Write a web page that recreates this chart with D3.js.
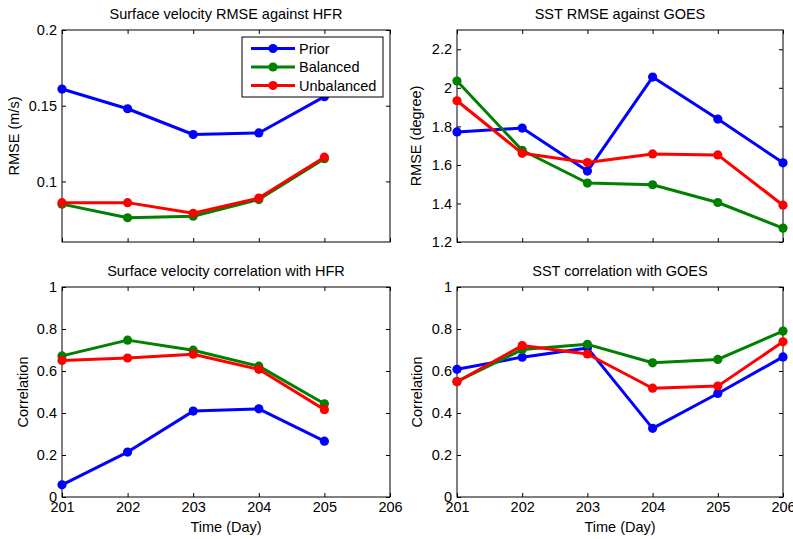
<!DOCTYPE html>
<html>
<head>
<meta charset="utf-8">
<script src="https://cdn.jsdelivr.net/npm/d3@7"></script>
<style>
	body { margin: 0; background: #fff; }
	svg { display: block; font-family: "Liberation Sans", Arial, sans-serif; }
	.tick text { font-size: 14.5px; fill: #000; }
	.tick line { stroke: #000; }
	.title, .y_label, .x_label, .legend_text { font-size: 14.5px; fill: #000; }
</style>
</head>
<body>
<div id="chart"></div>
<script>
// days on the x axis
const days = [201, 202, 203, 204, 205, 206];
const series_names = ["Prior", "Balanced", "Unbalanced"];

// surface velocity RMSE against HFR (m/s), days 201-205
const vel_rmse_prior = [0.161, 0.148, 0.131, 0.132, 0.156];
const vel_rmse_balanced = [0.085, 0.076, 0.077, 0.088, 0.115];
const vel_rmse_unbalanced = [0.086, 0.086, 0.079, 0.089, 0.116];

// SST RMSE against GOES (degree), days 201-206
const sst_rmse_prior = [1.771, 1.791, 1.568, 2.056, 1.838, 1.611];
const sst_rmse_balanced = [2.035, 1.676, 1.506, 1.497, 1.405, 1.272];
const sst_rmse_unbalanced = [1.933, 1.660, 1.612, 1.657, 1.652, 1.391];

// surface velocity correlation with HFR
const vel_corr_prior = [0.058, 0.214, 0.409, 0.420, 0.266];
const vel_corr_balanced = [0.672, 0.747, 0.699, 0.623, 0.444];
const vel_corr_unbalanced = [0.650, 0.662, 0.680, 0.608, 0.416];

// SST correlation with GOES
const sst_corr_prior = [0.608, 0.666, 0.710, 0.327, 0.493, 0.667];
const sst_corr_balanced = [0.550, 0.702, 0.727, 0.639, 0.655, 0.790];
const sst_corr_unbalanced = [0.549, 0.721, 0.681, 0.518, 0.528, 0.739];

// tick labels
const vel_rmse_ticks = [0.1, 0.15, 0.2];
const sst_rmse_ticks = [1.2, 1.4, 1.6, 1.8, 2, 2.2];
const corr_ticks = [0, 0.2, 0.4, 0.6, 0.8, 1];

const colors = ["#0000ff", "#008000", "#ff0000"];

const W = 793, H = 539;
const svg = d3.select("#chart").append("svg")
	.attr("width", W)
	.attr("height", H);

class line_panel {
	constructor(opts) {
		this.box = opts.box;          // {x, y, w, h} of the axes frame
		this.title = opts.title;
		this.y_label = opts.y_label;
		this.y_label_off = opts.y_label_off;
		this.y_domain = opts.y_domain;
		this.y_ticks = opts.y_ticks;
		this.series = opts.series;
		this.x_labels = opts.x_labels;
		this.legend = opts.legend;
		this.init();
	}

	init() {
		this.g = svg.append("g")
			.attr("transform", `translate(${this.box.x},${this.box.y})`);
		this.create_scales();
		this.create_axes();
		this.create_shapes();
		if (this.legend) this.create_legend();
	}

	create_scales() {
		this.x_scale = d3.scaleLinear()
			.domain([201, 206])
			.range([0, this.box.w]);
		this.y_scale = d3.scaleLinear()
			.domain(this.y_domain)
			.range([this.box.h, 0]);
	}

	create_axes() {
		const w = this.box.w, h = this.box.h;

		// frame
		this.g.append("rect")
			.attr("width", w)
			.attr("height", h)
			.attr("fill", "none")
			.attr("stroke", "#000")
			.attr("stroke-width", 1);

		const tick = 4;
		const fmt = d => String(d);

		this.g.append("g")
			.attr("class", "y axis")
			.call(d3.axisLeft(this.y_scale).tickValues(this.y_ticks)
				.tickSize(-tick).tickSizeOuter(0).tickPadding(5).tickFormat(fmt));
		this.g.append("g")
			.attr("transform", `translate(${w},0)`)
			.call(d3.axisRight(this.y_scale).tickValues(this.y_ticks)
				.tickSize(-tick).tickSizeOuter(0).tickFormat(""));
		this.g.append("g")
			.attr("class", "x axis")
			.attr("transform", `translate(0,${h})`)
			.call(d3.axisBottom(this.x_scale).tickValues(days)
				.tickSize(-tick).tickSizeOuter(0).tickPadding(5)
				.tickFormat(this.x_labels ? fmt : ""));
		this.g.append("g")
			.call(d3.axisTop(this.x_scale).tickValues(days)
				.tickSize(-tick).tickSizeOuter(0).tickFormat(""));

		this.g.selectAll(".domain").remove();
		this.g.selectAll(".tick text").attr("font-family", null).attr("font-size", null);

		this.g.append("text")
			.attr("class", "title")
			.attr("x", w / 2)
			.attr("y", -11)
			.attr("text-anchor", "middle")
			.text(this.title);

		this.g.append("text")
			.attr("class", "y_label")
			.attr("transform", `translate(${-this.y_label_off},${h / 2}) rotate(-90)`)
			.attr("text-anchor", "middle")
			.text(this.y_label);

		if (this.x_labels) {
			this.g.append("text")
				.attr("class", "x_label")
				.attr("x", w / 2)
				.attr("y", h + 35)
				.attr("text-anchor", "middle")
				.text("Time (Day)");
		}
	}

	create_shapes() {
		const line = d3.line()
			.x((d, i) => this.x_scale(days[i]))
			.y(d => this.y_scale(d));

		this.series.forEach((vals, k) => {
			const grp = this.g.append("g").attr("class", "series");
			grp.append("path")
				.datum(vals)
				.attr("d", line)
				.attr("fill", "none")
				.attr("stroke", colors[k])
				.attr("stroke-width", 3)
				.attr("stroke-linejoin", "round");
			grp.selectAll("circle")
				.data(vals)
				.enter()
				.append("circle")
				.attr("cx", (d, i) => this.x_scale(days[i]))
				.attr("cy", d => this.y_scale(d))
				.attr("r", 4.6)
				.attr("fill", colors[k]);
		});
	}

	create_legend() {
		const lg = this.g.append("g")
			.attr("transform", `translate(${this.legend.x},${this.legend.y})`);
		lg.append("rect")
			.attr("width", 141)
			.attr("height", 60)
			.attr("fill", "#fff")
			.attr("stroke", "#000")
			.attr("stroke-width", 1);
		series_names.forEach((name, k) => {
			const yy = 11.5 + k * 18.5;
			lg.append("line")
				.attr("x1", 9).attr("x2", 53)
				.attr("y1", yy).attr("y2", yy)
				.attr("stroke", colors[k])
				.attr("stroke-width", 3);
			lg.append("circle")
				.attr("cx", 31).attr("cy", yy).attr("r", 4.6)
				.attr("fill", colors[k]);
			lg.append("text")
				.attr("class", "legend_text")
				.attr("x", 57)
				.attr("y", yy)
				.attr("dy", "0.35em")
				.text(name);
		});
	}
}

const left_w = 328, right_w = 326;

new line_panel({
	box: {x: 62, y: 30, w: left_w, h: 212},
	title: "Surface velocity RMSE against HFR",
	y_label: "RMSE (m/s)",
	y_label_off: 43,
	y_domain: [0.06, 0.2],
	y_ticks: vel_rmse_ticks,
	series: [vel_rmse_prior, vel_rmse_balanced, vel_rmse_unbalanced],
	x_labels: false,
	legend: {x: 180, y: 7}
});

new line_panel({
	box: {x: 457, y: 30, w: right_w, h: 212},
	title: "SST RMSE against GOES",
	y_label: "RMSE (degree)",
	y_label_off: 36,
	y_domain: [1.2, 2.3],
	y_ticks: sst_rmse_ticks,
	series: [sst_rmse_prior, sst_rmse_balanced, sst_rmse_unbalanced],
	x_labels: false
});

new line_panel({
	box: {x: 62, y: 287, w: left_w, h: 210},
	title: "Surface velocity correlation with HFR",
	y_label: "Correlation",
	y_label_off: 34,
	y_domain: [0, 1],
	y_ticks: corr_ticks,
	series: [vel_corr_prior, vel_corr_balanced, vel_corr_unbalanced],
	x_labels: true
});

new line_panel({
	box: {x: 457, y: 287, w: right_w, h: 210},
	title: "SST correlation with GOES",
	y_label: "Correlation",
	y_label_off: 35,
	y_domain: [0, 1],
	y_ticks: corr_ticks,
	series: [sst_corr_prior, sst_corr_balanced, sst_corr_unbalanced],
	x_labels: true
});
</script>
</body>
</html>
